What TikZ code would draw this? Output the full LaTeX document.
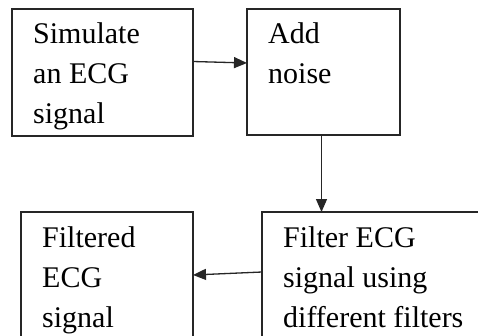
\documentclass[tikz,border=0pt]{standalone}
\usepackage{fontspec}
\setmainfont{Liberation Serif}
\usetikzlibrary{arrows.meta}
\tikzset{
  box/.style={draw=black!85, line width=1.5pt, rectangle, inner sep=0pt, outer sep=0pt, anchor=north west},
  txt/.style={anchor=base west, inner sep=0pt, font=\fontsize{30}{40}\selectfont, text=black},
  arr/.style={draw=black!85, line width=1.3pt, -{Triangle[length=13pt,width=11pt]}}
}
\begin{document}
\begin{tikzpicture}[x=1pt,y=-1pt]
\useasboundingbox (0,0) rectangle (478,335);
\clip (0,0) rectangle (478,335);
\fill[white] (-5,-5) rectangle (483,340);
\node[box, minimum width=181pt, minimum height=127pt] (b1) at (12,9) {};
\node[box, minimum width=153pt, minimum height=126pt] (b2) at (247,9) {};
\node[box, minimum width=400pt, minimum height=150pt] (b3) at (262,212) {};
\node[box, minimum width=172pt, minimum height=150pt] (b4) at (21,212) {};
% texts
\node[txt] (t11) at (33,43) {Simulate};
\node[txt] (t12) at (33,83) {an ECG};
\node[txt] (t13) at (33,123) {signal};
\node[txt] (t21) at (268,43) {Add};
\node[txt] (t22) at (268,83) {noise};
\node[txt] (t31) at (283,247) {Filter ECG};
\node[txt] (t32) at (283,287) {signal using};
\node[txt] (t33) at (283,327) {different filters};
\node[txt] (t41) at (42,247) {Filtered};
\node[txt] (t42) at (42,287) {ECG};
\node[txt] (t43) at (42,327) {signal};
% connectors
\draw[arr] ([yshift=11pt]b1.east) -- ([yshift=9pt]b2.west);
\draw[arr] ([xshift=-2pt]b2.south) -- ([xshift=-2pt]b2.south |- b3.north);
\draw[arr] ([yshift=15pt]b3.west) -- ([yshift=12pt]b4.east);
\end{tikzpicture}
\end{document}
